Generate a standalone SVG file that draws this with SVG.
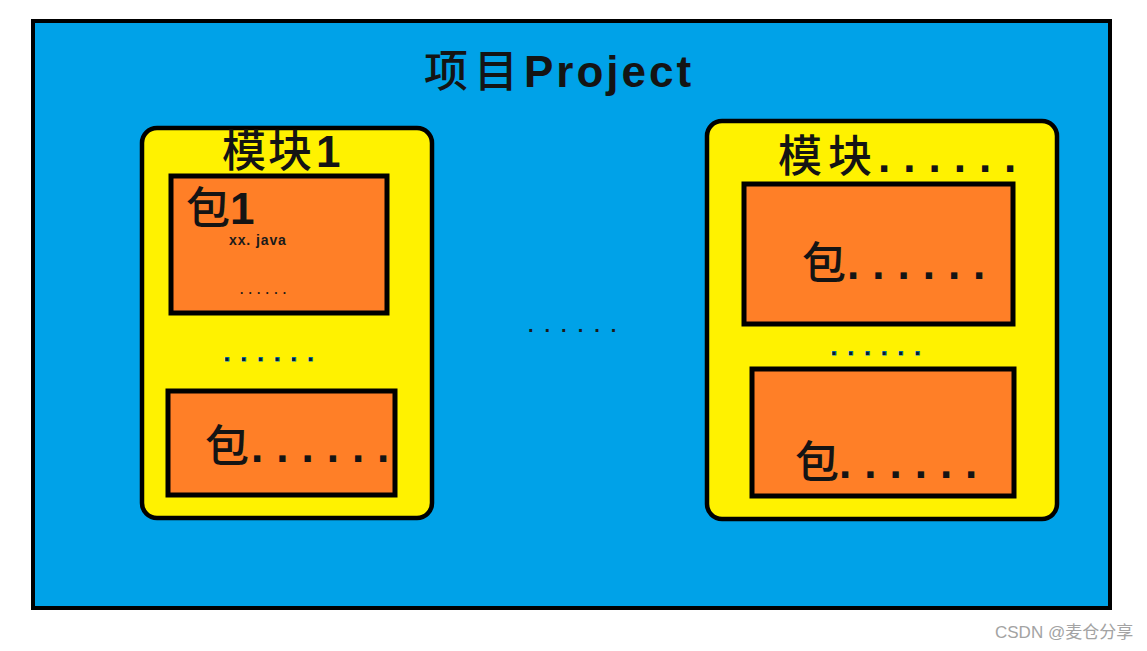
<svg xmlns="http://www.w3.org/2000/svg" width="1147" height="651" viewBox="0 0 1147 651">
  <style>
    .project { fill: #00A2E8; stroke: #000; stroke-width: 4; }
    .module { fill: #FFF200; stroke: #000; stroke-width: 4.5; }
    .pkg { fill: #FF7F27; stroke: #000; stroke-width: 5; }
    .big { font-family: "Liberation Sans", "Noto Sans CJK SC", sans-serif; font-size: 44px; font-weight: bold; fill: #141414; }
    .cjk { font-family: "Noto Sans CJK SC", sans-serif; font-weight: 500; }
    .dots { letter-spacing: 13px; }
    .small { font-family: "Liberation Sans", sans-serif; font-weight: bold; fill: #1a1a1a; }
    .bluedots { font-family: "Liberation Sans", sans-serif; font-size: 22px; font-weight: bold; fill: #0a1a2a; stroke: #0080c8; stroke-width: 1.2; paint-order: stroke; letter-spacing: 10.6px; }
    .wm { font-family: "Liberation Sans", "Noto Sans CJK SC", sans-serif; font-size: 17px; fill: #a3a3a3; }
  </style>
  <rect width="1147" height="651" fill="#ffffff"/>

  <g id="project">
    <rect class="project" x="33" y="21" width="1077" height="587"/>
    <text class="big" x="424" y="87"><tspan class="cjk" letter-spacing="6">项目</tspan><tspan letter-spacing="3">Project</tspan></text>
  </g>

  <g id="module1">
    <rect class="module" x="142" y="128" width="290" height="390" rx="15"/>
    <text class="big" x="222" y="167"><tspan class="cjk" letter-spacing="2">模块</tspan><tspan dx="2">1</tspan></text>
    <text class="bluedots" x="224" y="361">......</text>
  </g>

  <g id="package1">
    <rect class="pkg" x="171" y="176" width="216" height="137"/>
    <text class="big" x="186" y="224"><tspan class="cjk">包</tspan>1</text>
    <text class="small" x="229" y="245" font-size="14" letter-spacing="0.9">xx. java</text>
    <text class="small" x="240" y="294" font-size="12" letter-spacing="5.2">......</text>
  </g>

  <g id="package-left-more">
    <rect class="pkg" x="168" y="391" width="227" height="104"/>
    <text class="big" x="205" y="462"><tspan class="cjk">包</tspan><tspan class="dots" dx="2">......</tspan></text>
  </g>

  <g id="module-more">
    <rect class="module" x="707" y="121" width="350" height="398" rx="15"/>
    <text class="big" x="778" y="172"><tspan class="cjk" letter-spacing="6">模块</tspan><tspan class="dots">......</tspan></text>
    <text class="bluedots" x="831" y="355">......</text>
  </g>

  <g id="package-right-1">
    <rect class="pkg" x="744" y="184" width="269" height="140"/>
    <text class="big" x="802" y="279"><tspan class="cjk">包</tspan><tspan class="dots" dx="1">......</tspan></text>
  </g>

  <g id="package-right-2">
    <rect class="pkg" x="752" y="369" width="262" height="127"/>
    <text class="big" x="795" y="478"><tspan class="cjk">包</tspan><tspan class="dots">......</tspan></text>
  </g>

  <g id="middle-dots">
    <text class="small" x="528" y="332" font-size="20" letter-spacing="11">......</text>
  </g>

  <g id="connectors"></g>

  <text class="wm" x="995" y="638">CSDN @麦仓分享</text>
</svg>
